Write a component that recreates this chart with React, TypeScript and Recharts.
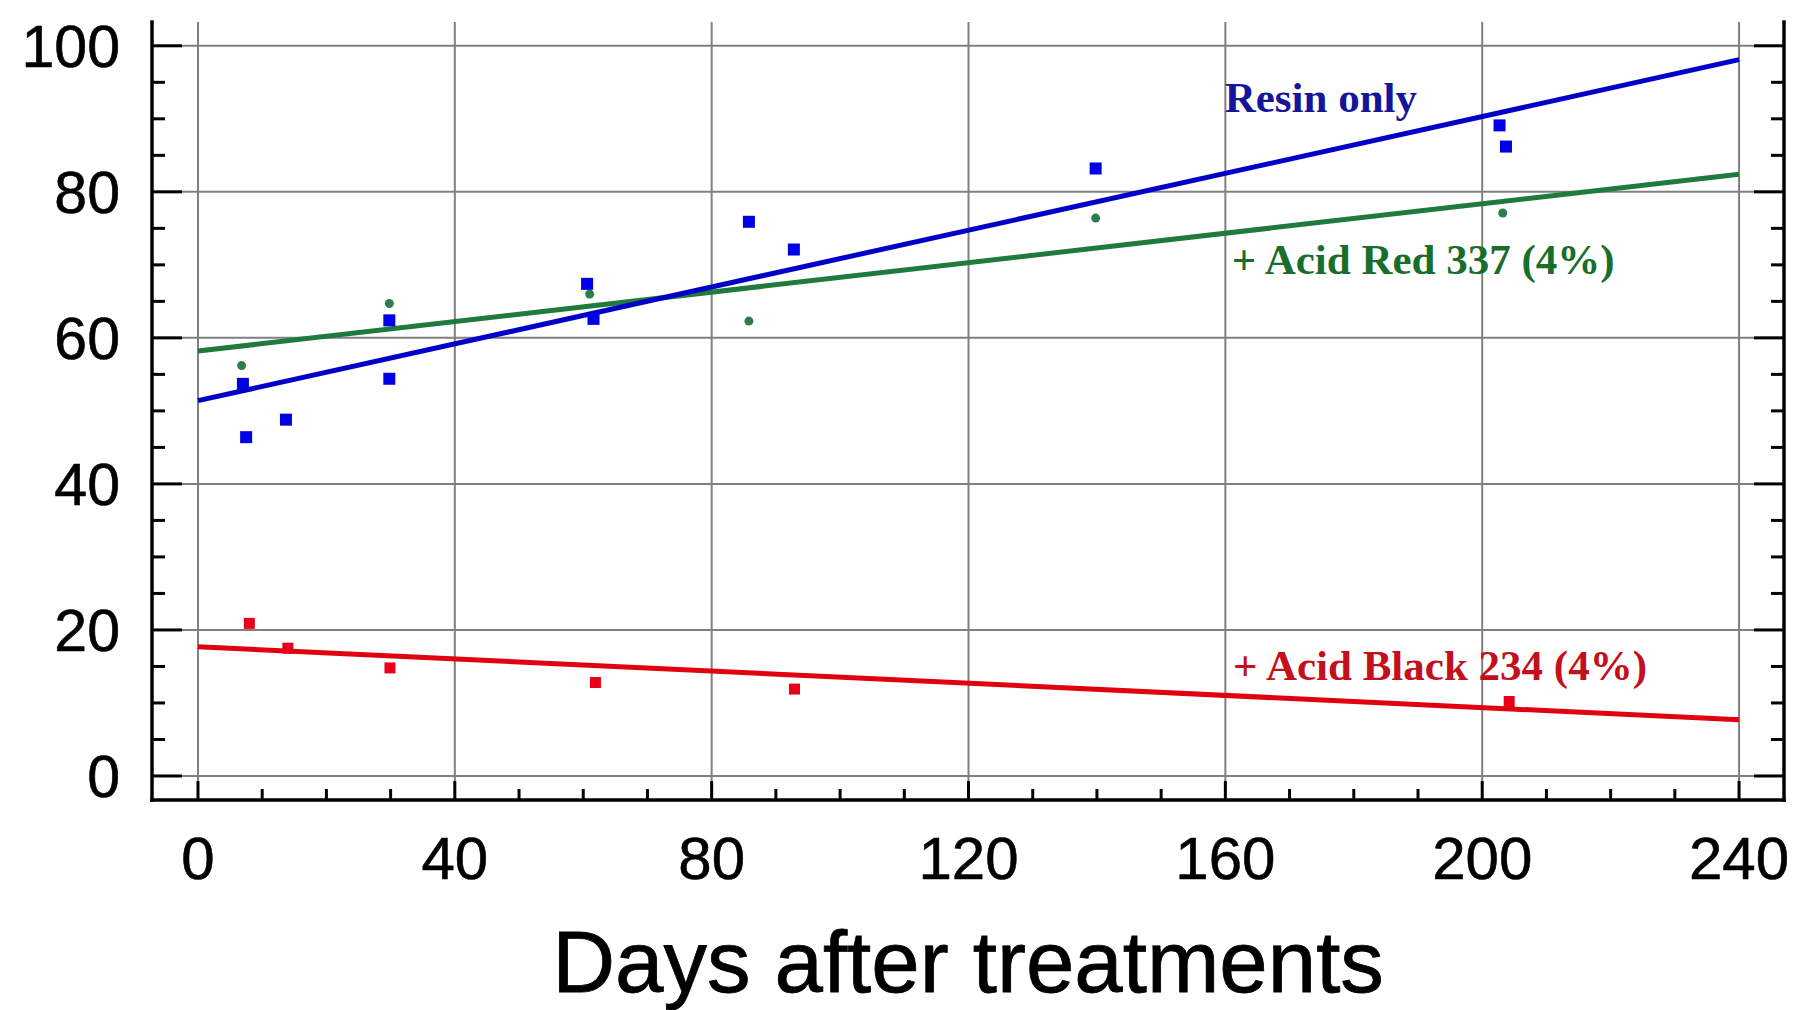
import React from 'react';
import {
  ComposedChart,
  XAxis,
  YAxis,
  CartesianGrid,
  Line,
  Scatter,
  ReferenceDot,
} from 'recharts';

// ---- tick values ----
const xMajorTicks = [0, 40, 80, 120, 160, 200, 240];
const xMinorTicks = [0, 10, 20, 30, 40, 50, 60, 70, 80, 90, 100, 110, 120, 130, 140, 150, 160, 170, 180, 190, 200, 210, 220, 230, 240];
const yMajorTicks = [0, 20, 40, 60, 80, 100];
const yMinorTicks = [0, 5, 10, 15, 20, 25, 30, 35, 40, 45, 50, 55, 60, 65, 70, 75, 80, 85, 90, 95, 100];

// ---- measured points ----
const resinDays = [7, 7.5, 13.7, 29.8, 29.8, 60.6, 61.6, 85.8, 92.8, 139.8, 202.7, 203.7];
const resinValues = [53.7, 46.4, 48.8, 62.4, 54.4, 67.4, 62.6, 75.9, 72.1, 83.2, 89.1, 86.2];

const acidRedDays = [6.8, 29.8, 61, 85.8, 139.8, 203.2];
const acidRedValues = [56.2, 64.7, 66.0, 62.3, 76.4, 77.1];

const acidBlackDays = [8, 14, 29.9, 61.9, 92.9, 204.2];
const acidBlackValues = [20.9, 17.5, 14.8, 12.8, 11.9, 10.2];

// ---- regression lines (end points) ----
const fitDays = [0, 240];
const resinFitValues = [51.4, 98.1];
const acidRedFitValues = [58.2, 82.4];
const acidBlackFitValues = [17.7, 7.7];

const toPoints = (xs: number[], ys: number[]) => xs.map((x, i) => ({ x, y: ys[i] }));

const resinPts = toPoints(resinDays, resinValues);
const acidRedPts = toPoints(acidRedDays, acidRedValues);
const acidBlackPts = toPoints(acidBlackDays, acidBlackValues);
const resinFit = toPoints(fitDays, resinFitValues);
const acidRedFit = toPoints(fitDays, acidRedFitValues);
const acidBlackFit = toPoints(fitDays, acidBlackFitValues);

const SANS = '"Liberation Sans", Arial, Helvetica, sans-serif';
const SERIF = '"Liberation Serif", "Times New Roman", Times, serif';

const X_DOMAIN: [number, number] = [-7.16, 247];
const Y_DOMAIN: [number, number] = [-3.29, 103.26];

const isMajorX = (v: number) => xMajorTicks.includes(v);
const isMajorY = (v: number) => yMajorTicks.includes(v);

function BottomTick(props: any) {
  const { x, y, payload } = props;
  const major = isMajorX(payload.value);
  return (
    <g>
      <line x1={x} x2={x} y1={y} y2={y - (major ? 19 : 11)} stroke="#000" strokeWidth={3} />
      {major && (
        <text x={x} y={y + 36} dy="0.71em" textAnchor="middle" fontFamily={SANS} fontSize={60} fill="#000" stroke="#000" strokeWidth={0.6}>
          {payload.value}
        </text>
      )}
    </g>
  );
}

function TopTick(props: any) {
  const { x, y, payload } = props;
  const major = isMajorX(payload.value);
  return <line x1={x} x2={x} y1={y} y2={y + (major ? 20 : 11)} stroke="#000" strokeWidth={3} />;
}

function LeftTick(props: any) {
  const { x, y, payload } = props;
  const major = isMajorY(payload.value);
  return (
    <g>
      <line x1={x} x2={x + (major ? 30 : 13)} y1={y} y2={y} stroke="#000" strokeWidth={3} />
      {major && (
        <text x={x - 32} y={y} dy="0.355em" textAnchor="end" fontFamily={SANS} fontSize={59} fill="#000" stroke="#000" strokeWidth={0.6}>
          {payload.value}
        </text>
      )}
    </g>
  );
}

function RightTick(props: any) {
  const { x, y, payload } = props;
  const major = isMajorY(payload.value);
  return <line x1={x} x2={x - (major ? 30 : 13)} y1={y} y2={y} stroke="#000" strokeWidth={3} />;
}

const square = (size: number, color: string) => (p: any) =>
  <rect x={p.cx - size / 2} y={p.cy - size / 2} width={size} height={size} fill={color} />;

const dotShape = (r: number, color: string) => (p: any) =>
  <circle cx={p.cx} cy={p.cy} r={r} fill={color} />;

const annotation = (text: string, color: string) => (p: any) => {
  const vb = p.viewBox || {};
  return (
    <text x={vb.x} y={vb.y} fontFamily={SERIF} fontWeight="bold" fontSize={43} fill={color} textAnchor="start">
      {text}
    </text>
  );
};

const axisLineStyle = { stroke: '#000', strokeWidth: 3.5, strokeLinecap: 'square' as const };

export default function App() {
  return (
    <div style={{ position: 'absolute', left: 0, top: 0, width: 1795, height: 1010, background: '#fff' }}>
      <ComposedChart width={1795} height={1010} margin={{ top: 22, right: 0, bottom: 0, left: 0 }}>
        <CartesianGrid
          xAxisId="x"
          yAxisId="y"
          verticalValues={xMajorTicks}
          horizontalValues={yMajorTicks}
          stroke="#808080"
          strokeWidth={2}
        />
        <XAxis
          xAxisId="x"
          dataKey="x"
          type="number"
          domain={X_DOMAIN}
          allowDataOverflow
          ticks={xMinorTicks}
          interval={0}
          tickSize={0}
          tickMargin={0}
          tickLine={false}
          axisLine={axisLineStyle}
          tick={<BottomTick />}
          height={210}
          label={(p: any) => {
            const vb = p.viewBox || {};
            return (
              <text
                x={vb.x + vb.width / 2}
                y={vb.y + vb.height - 18}
                textAnchor="middle"
                fontFamily={SANS}
                fontSize={87}
                fill="#000"
                stroke="#000"
                strokeWidth={0.8}
              >
                Days after treatments
              </text>
            );
          }}
        />
        <XAxis
          xAxisId="xt"
          orientation="top"
          type="number"
          domain={X_DOMAIN}
          allowDataOverflow
          ticks={xMinorTicks}
          interval={0}
          tickSize={0}
          tickMargin={0}
          tickLine={false}
          axisLine={axisLineStyle}
          tick={<TopTick />}
          height={0}
        />
        <YAxis
          yAxisId="y"
          dataKey="y"
          type="number"
          domain={Y_DOMAIN}
          allowDataOverflow
          ticks={yMinorTicks}
          interval={0}
          tickSize={0}
          tickMargin={0}
          tickLine={false}
          axisLine={axisLineStyle}
          tick={<LeftTick />}
          width={152}
        />
        <YAxis
          yAxisId="yr"
          orientation="right"
          type="number"
          domain={Y_DOMAIN}
          allowDataOverflow
          ticks={yMinorTicks}
          interval={0}
          tickSize={0}
          tickMargin={0}
          tickLine={false}
          axisLine={axisLineStyle}
          tick={<RightTick />}
          width={11}
        />

        <Line xAxisId="x" yAxisId="y" data={acidBlackFit} dataKey="y" type="linear" stroke="#e00010" strokeWidth={5} dot={false} activeDot={false} isAnimationActive={false} />
        <Line xAxisId="x" yAxisId="y" data={acidRedFit} dataKey="y" type="linear" stroke="#1f7a3c" strokeWidth={5} dot={false} activeDot={false} isAnimationActive={false} />
        <Line xAxisId="x" yAxisId="y" data={resinFit} dataKey="y" type="linear" stroke="#0000c8" strokeWidth={5} dot={false} activeDot={false} isAnimationActive={false} />

        <Scatter xAxisId="x" yAxisId="y" data={acidBlackPts} dataKey="y" shape={square(11, '#e8001a')} isAnimationActive={false} />
        <Scatter xAxisId="x" yAxisId="y" data={acidRedPts} dataKey="y" shape={dotShape(4.5, '#2e7d4f')} isAnimationActive={false} />
        <Scatter xAxisId="x" yAxisId="y" data={resinPts} dataKey="y" shape={square(12, '#0000e6')} isAnimationActive={false} />

        <ReferenceDot xAxisId="x" yAxisId="y" x={159.9} y={90.9} r={0} fill="none" stroke="none" ifOverflow="visible" label={annotation('Resin only', '#15159a')} />
        <ReferenceDot xAxisId="x" yAxisId="y" x={161.0} y={68.7} r={0} fill="none" stroke="none" ifOverflow="visible" label={annotation('+ Acid Red 337 (4%)', '#1a6e2c')} />
        <ReferenceDot xAxisId="x" yAxisId="y" x={161.2} y={13.1} r={0} fill="none" stroke="none" ifOverflow="visible" label={annotation('+ Acid Black 234 (4%)', '#c4101c')} />
      </ComposedChart>
    </div>
  );
}
